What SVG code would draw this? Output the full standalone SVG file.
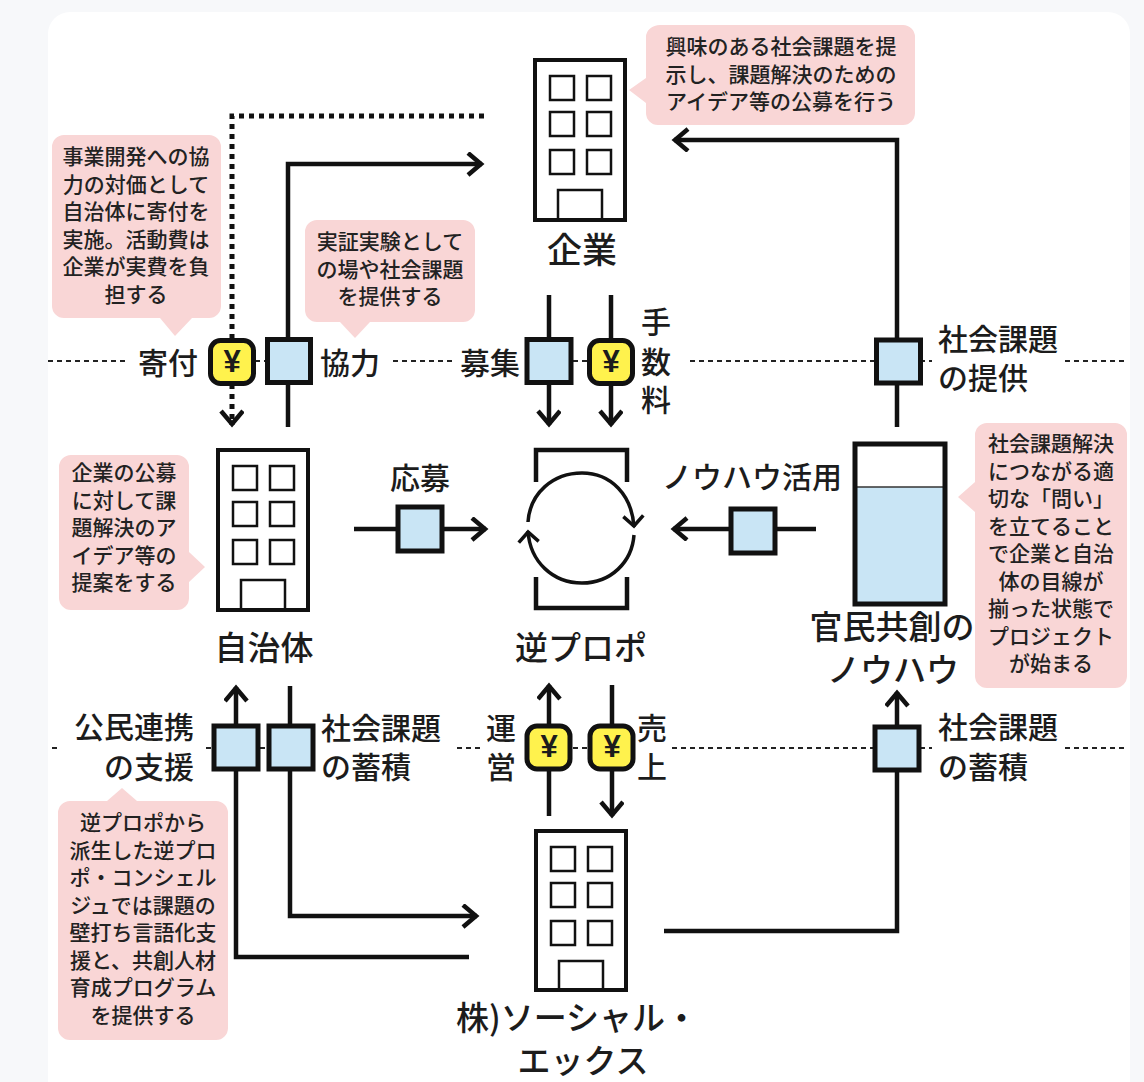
<svg xmlns="http://www.w3.org/2000/svg" width="1144" height="1082" viewBox="0 0 1144 1082">
<style>
text{font-family:"Noto Sans CJK JP","Noto Sans",sans-serif;fill:#1c1c1c;dominant-baseline:central;text-anchor:middle;font-weight:500}
.l{font-size:30px}.b{font-size:33px}.s{text-anchor:start}.e{text-anchor:end}
.c{font-size:21px;fill:#222}
.bub{fill:#f9d6d6}
.w{fill:#fff;stroke:#111;stroke-width:4}
.f{fill:none;stroke:#111;stroke-width:2.500}
.k{fill:none;stroke:#111;stroke-width:4.500}
.dash{fill:none;stroke:#222;stroke-width:2;stroke-dasharray:5 4}
.box{fill:#c9e5f5;stroke:#111;stroke-width:5}
.yen{fill:#fff24d;stroke:#111;stroke-width:5}
.y{font-size:31px;font-weight:700;font-family:"Liberation Sans",sans-serif}
</style>
<defs>
<marker id="a" markerUnits="userSpaceOnUse" markerWidth="30" markerHeight="30" refX="21" refY="12" orient="auto" viewBox="0 0 30 30"><path d="M7 1 L20 12 L7 23" fill="none" stroke="#111" stroke-width="4.500"/></marker>
<marker id="t" markerUnits="userSpaceOnUse" markerWidth="30" markerHeight="30" refX="17" refY="12" orient="auto" viewBox="0 0 30 30"><path d="M6 2 L16 12 L6 22" fill="none" stroke="#111" stroke-width="3.500"/></marker>
</defs>
<rect width="1144" height="1082" fill="#f7f8fa"/>
<rect x="48" y="12" width="1082" height="1090" rx="22" fill="#fff"/>
<g id="connectors">
<path class="dash" d="M48 361H128M255 361H266M393 361H455M573 361H588M690 361H876M920 361H932M1065 361H1128M52 748H58M206 748H214M260 748H268M457 748H482M573 748H588M672 748H874M920 748H932M1065 748H1128"/>
<path d="M484 116H232V425" fill="none" stroke="#111" stroke-width="5" stroke-dasharray="5 5" marker-end="url(#a)"/>
<path class="k" d="M288 427V164H482" marker-end="url(#a)"/>
<path class="k" d="M897 427V140H674" marker-end="url(#a)"/>
<path class="k" d="M549 295V425" marker-end="url(#a)"/>
<path class="k" d="M611 295V425" marker-end="url(#a)"/>
<path class="k" d="M354 529H486" marker-end="url(#a)"/>
<path class="k" d="M816 529H673" marker-end="url(#a)"/>
<path class="k" d="M469 957H236V687" marker-end="url(#a)"/>
<path class="k" d="M290 686V916H477" marker-end="url(#a)"/>
<path class="k" d="M549 816V685" marker-end="url(#a)"/>
<path class="k" d="M612 685V816" marker-end="url(#a)"/>
<path class="k" d="M664 931H897V692" marker-end="url(#a)"/>
</g>
<g id="company"><rect class="w" x="535" y="60" width="90" height="160"/><path class="f" d="M550 76h24v24h-24zM587 76h24v24h-24zM550 112h24v24h-24zM587 112h24v24h-24zM550 150h24v24h-24zM587 150h24v24h-24zM558 218V190h44v28"/><text x="582" y="247" style="font-size:35px">企業</text></g>
<g id="municipality"><rect class="w" x="218" y="450" width="90" height="160"/><path class="f" d="M233 466h24v24h-24zM270 466h24v24h-24zM233 502h24v24h-24zM270 502h24v24h-24zM233 540h24v24h-24zM270 540h24v24h-24zM241 608V580h44v28"/><text class="b" x="264" y="646">自治体</text></g>
<g id="socialx"><rect class="w" x="536" y="831" width="90" height="159"/><path class="f" d="M551 847h24v24h-24zM588 847h24v24h-24zM551 883h24v24h-24zM588 883h24v24h-24zM551 921h24v24h-24zM588 921h24v24h-24zM559 988V961h44v27"/><text class="b" x="577" y="1016">株)ソーシャル・<tspan x="583" dy="43">エックス</tspan></text></g>
<g id="gyaku">
<path class="k" d="M536 482V450H627V482M536 577V608H627V577"/>
<path d="M528 522C530 493 553 473 582 473C611 473 632 495 634 527" fill="none" stroke="#111" stroke-width="3.500" marker-end="url(#t)"/>
<path d="M634 535C632 562 611 583 582 583C553 583 530 562 528 531" fill="none" stroke="#111" stroke-width="3.500" marker-end="url(#t)"/>
<text class="b" x="581" y="646">逆プロポ</text></g>
<g id="knowhow"><rect x="855" y="444" width="90" height="160" fill="#fff"/><rect x="855" y="487" width="90" height="117" fill="#c9e5f5"/><path d="M855 487H945" stroke="#333" stroke-width="1.500"/><rect x="855" y="444" width="90" height="160" fill="none" stroke="#111" stroke-width="5"/><text class="b" x="892" y="625">官民共創の<tspan x="893" dy="43">ノウハウ</tspan></text></g>

<g id="m-donation"><rect class="yen" x="210.500" y="340.500" width="43" height="43" rx="10"/><text class="y" x="232" y="361">¥</text><text class="l" x="168" y="361">寄付</text></g>
<g id="m-cooperate"><rect class="box" x="267.500" y="339.500" width="43" height="43"/><text class="l" x="350" y="361">協力</text></g>
<g id="m-recruit"><rect class="box" x="527" y="339.500" width="44" height="43"/><text class="l" x="490" y="361">募集</text></g>
<g id="m-fee"><rect class="yen" x="589.500" y="340.500" width="43" height="43" rx="10"/><text class="y" x="611" y="361">¥</text><text class="l" x="656" y="320">手<tspan x="656" dy="40">数</tspan><tspan x="656" dy="38">料</tspan></text></g>
<g id="m-provide"><rect class="box" x="876.500" y="340" width="44" height="43"/><text class="l s" x="938" y="337">社会課題<tspan x="938" dy="39">の提供</tspan></text></g>
<g id="m-apply"><rect class="box" x="398" y="507" width="44" height="44"/><text class="l" x="420" y="476">応募</text></g>
<g id="m-use"><rect class="box" x="731" y="509" width="44" height="44"/><text class="l" x="752" y="475">ノウハウ活用</text></g>
<g id="m-support"><rect class="box" x="214" y="726" width="44" height="43"/><text class="l e" x="194" y="725">公民連携<tspan x="194" dy="40">の支援</tspan></text></g>
<g id="m-accum1"><rect class="box" x="269" y="726" width="44" height="43"/><text class="l s" x="321" y="726">社会課題<tspan x="321" dy="39">の蓄積</tspan></text></g>
<g id="m-operate"><rect class="yen" x="527" y="726" width="43" height="43" rx="10"/><text class="y" x="549" y="746">¥</text><text class="l" x="501" y="726">運<tspan x="501" dy="39">営</tspan></text></g>
<g id="m-sales"><rect class="yen" x="590" y="726" width="43" height="43" rx="10"/><text class="y" x="612" y="746">¥</text><text class="l" x="652" y="726">売<tspan x="652" dy="39">上</tspan></text></g>
<g id="m-accum2"><rect class="box" x="875" y="727" width="44" height="43"/><text class="l s" x="938" y="725">社会課題<tspan x="938" dy="40">の蓄積</tspan></text></g>

<g id="note1"><path class="bub" d="M660 25H903a12 12 0 0 1 12 12V113a12 12 0 0 1-12 12H658a12 12 0 0 1-12-12V103L629 90L646 78V37a14 12 0 0 1 14-12z"/><text class="c" x="781" y="45">興味のある社会課題を提<tspan x="781" dy="27.500">示し、課題解決のための</tspan><tspan x="781" dy="27.500">アイデア等の公募を行う</tspan></text></g>
<g id="note2"><path class="bub" d="M64 135H209a12 12 0 0 1 12 12V306a12 12 0 0 1-12 12H192L175 336L160 318H64a12 12 0 0 1-12-12V147a12 12 0 0 1 12-12z"/><text class="c" x="136" y="155">事業開発への協<tspan x="136" dy="27.500">力の対価として</tspan><tspan x="136" dy="27.500">自治体に寄付を</tspan><tspan x="136" dy="27.500">実施。活動費は</tspan><tspan x="136" dy="27.500">企業が実費を負</tspan><tspan x="136" dy="27.500">担する</tspan></text></g>
<g id="note3"><path class="bub" d="M317 220H463a12 12 0 0 1 12 12V310a12 12 0 0 1-12 12H370L355 338L340 322H317a12 12 0 0 1-12-12V232a12 12 0 0 1 12-12z"/><text class="c" x="390" y="240">実証実験として<tspan x="390" dy="27.500">の場や社会課題</tspan><tspan x="390" dy="27.500">を提供する</tspan></text></g>
<g id="note4"><path class="bub" d="M71 455H177a12 12 0 0 1 12 12V552L205 567L189 582V598a12 12 0 0 1-12 12H71a12 12 0 0 1-12-12V467a12 12 0 0 1 12-12z"/><text class="c" x="124" y="471">企業の公募<tspan x="124" dy="27.500">に対して課</tspan><tspan x="124" dy="27.500">題解決のア</tspan><tspan x="124" dy="27.500">イデア等の</tspan><tspan x="124" dy="27.500">提案をする</tspan></text></g>
<g id="note5"><path class="bub" d="M987 423H1115a12 12 0 0 1 12 12V676a12 12 0 0 1-12 12H987a12 12 0 0 1-12-12V512L958 497L975 482V435a12 12 0 0 1 12-12z"/><text class="c" x="1051" y="442">社会課題解決<tspan x="1051" dy="27.500">につながる適</tspan><tspan x="1051" dy="27.500">切な「問い」</tspan><tspan x="1051" dy="27.500">を立てること</tspan><tspan x="1051" dy="27.500">で企業と自治</tspan><tspan x="1051" dy="27.500">体の目線が</tspan><tspan x="1051" dy="27.500">揃った状態で</tspan><tspan x="1051" dy="27.500">プロジェクト</tspan><tspan x="1051" dy="27.500">が始まる</tspan></text></g>
<g id="note6"><path class="bub" d="M70 801H107L122 788L137 801H216a12 12 0 0 1 12 12V1028a12 12 0 0 1-12 12H70a12 12 0 0 1-12-12V813a12 12 0 0 1 12-12z"/><text class="c" x="143" y="821">逆プロポから<tspan x="143" dy="27.500">派生した逆プロ</tspan><tspan x="143" dy="27.500">ポ・コンシェル</tspan><tspan x="143" dy="27.500">ジュでは課題の</tspan><tspan x="143" dy="27.500">壁打ち言語化支</tspan><tspan x="143" dy="27.500">援と、共創人材</tspan><tspan x="143" dy="27.500">育成プログラム</tspan><tspan x="143" dy="27.500">を提供する</tspan></text></g>
</svg>
